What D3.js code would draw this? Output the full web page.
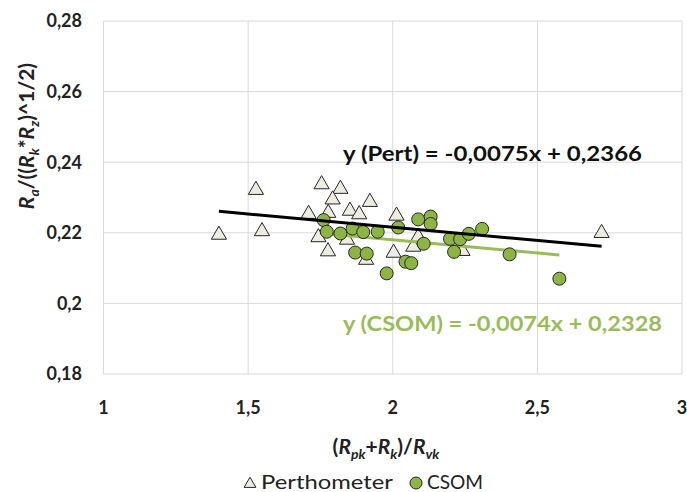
<!DOCTYPE html>
<html lang="en">
  <head>
    <title>Scatter Chart</title>
    <meta charset="utf-8" />
    <script src="https://cdn.jsdelivr.net/npm/d3@7"></script>
    <style>
      body { margin: 0; background: #fff; }
    </style>
  </head>
  <body>
    <svg id="chart" width="687" height="492" viewBox="0 0 687 492"></svg>
    <script>
      // Perthometer measurements
      const pertX = [1.399, 1.527, 1.548, 1.709, 1.754, 1.819, 1.792, 1.777, 1.852, 1.884, 1.921,
                     1.743, 1.842, 1.776, 1.908, 2.013, 2.003, 2.071, 2.088, 2.241, 2.722];
      const pertY = [0.2197, 0.2324, 0.2207, 0.2256, 0.2340, 0.2327, 0.2297, 0.2259, 0.2265, 0.2255, 0.2290,
                     0.2190, 0.2183, 0.2150, 0.2126, 0.2251, 0.2146, 0.2163, 0.2191, 0.2151, 0.2202];
      // CSOM measurements
      const csomX = [1.761, 1.772, 1.819, 1.861, 1.898, 1.948, 1.870, 1.910, 1.979, 2.019, 2.044, 2.064,
                     2.088, 2.131, 2.131, 2.107, 2.198, 2.233, 2.263, 2.309, 2.212, 2.404, 2.576];
      const csomY = [0.2236, 0.2203, 0.2198, 0.2212, 0.2202, 0.2203, 0.2144, 0.2141, 0.2085, 0.2215, 0.2118, 0.2114,
                     0.2238, 0.2246, 0.2225, 0.2169, 0.2183, 0.2182, 0.2197, 0.2211, 0.2146, 0.2139, 0.2070];
      // trend coefficients (slope, intercept)
      const pertTrend = [-0.0075, 0.2366];
      const csomTrend = [-0.0074, 0.2328];
      const xTicks = [1, 1.5, 2, 2.5, 3];
      const yTicks = [0.18, 0.2, 0.22, 0.24, 0.26, 0.28];

      const fmt = v => String(v).replace(".", ",");
      const font = "Lato, 'Open Sans', sans-serif";

      const svg = d3.select("#chart").attr("font-family", font);

      const x = d3.scaleLinear().domain([1, 3]).range([103.5, 682]);
      const y = d3.scaleLinear().domain([0.18, 0.28]).range([374, 21]);

      // gridlines
      svg.append("g")
        .selectAll("line")
        .data(yTicks)
        .join("line")
          .attr("x1", x(1)).attr("x2", x(3))
          .attr("y1", d => y(d)).attr("y2", d => y(d))
          .attr("stroke", "#d9d9d9").attr("stroke-width", 1);
      svg.append("g")
        .selectAll("line")
        .data(xTicks)
        .join("line")
          .attr("x1", d => x(d)).attr("x2", d => x(d))
          .attr("y1", y(0.18)).attr("y2", y(0.28))
          .attr("stroke", "#d9d9d9").attr("stroke-width", 1);

      // y tick labels
      svg.append("g")
        .selectAll("text")
        .data(yTicks)
        .join("text")
          .attr("x", 82)
          .attr("y", d => y(d))
          .attr("dy", "0.35em")
          .attr("text-anchor", "end")
          .attr("font-size", "18px")
          .attr("font-weight", "700")
          .attr("fill", "#222")
          .text(d => fmt(d));

      // x tick labels
      svg.append("g")
        .selectAll("text")
        .data(xTicks)
        .join("text")
          .attr("x", d => x(d))
          .attr("y", 414)
          .attr("text-anchor", "middle")
          .attr("font-size", "18px")
          .attr("font-weight", "700")
          .attr("fill", "#222")
          .text(d => fmt(d));

      // trendlines
      function trend(xs, c) {
        const ext = d3.extent(xs);
        return ext.map(v => [v, c[0] * v + c[1]]);
      }
      const line = d3.line().x(d => x(d[0])).y(d => y(d[1]));

      // markers
      const pert = pertX.map((v, i) => [v, pertY[i]]);
      const csom = csomX.map((v, i) => [v, csomY[i]]);
      const tri = d3.symbol().type(d3.symbolTriangle).size(100);

      svg.append("g")
        .selectAll("path")
        .data(pert)
        .join("path")
          .attr("transform", d => `translate(${x(d[0])},${y(d[1]) + 1})`)
          .attr("d", tri)
          .attr("fill", "#eeece1")
          .attr("stroke", "#262626")
          .attr("stroke-width", 1);

      svg.append("path")
        .datum(trend(csomX, csomTrend))
        .attr("d", line)
        .attr("stroke", "#9bbb59").attr("stroke-width", 3).attr("fill", "none");

      svg.append("g")
        .selectAll("circle")
        .data(csom)
        .join("circle")
          .attr("cx", d => x(d[0]))
          .attr("cy", d => y(d[1]))
          .attr("r", 6.5)
          .attr("fill", "#8db544")
          .attr("stroke", "#262626")
          .attr("stroke-width", 1);

      // black trend sits on top of the markers
      svg.append("path")
        .datum(trend(pertX, pertTrend))
        .attr("d", line)
        .attr("stroke", "#000").attr("stroke-width", 3).attr("fill", "none");

      // equations
      svg.append("text")
        .attr("x", 343).attr("y", 161)
        .attr("font-size", "20px").attr("font-weight", "700")
        .attr("fill", "#111")
        .attr("textLength", 299).attr("lengthAdjust", "spacingAndGlyphs")
        .text("y (Pert) = -0,0075x + 0,2366");
      svg.append("text")
        .attr("x", 343).attr("y", 331)
        .attr("font-size", "20px").attr("font-weight", "700")
        .attr("fill", "#9bbb59")
        .attr("textLength", 319).attr("lengthAdjust", "spacingAndGlyphs")
        .text("y (CSOM) = -0,0074x + 0,2328");

      // axis titles
      function richText(sel, parts) {
        parts.forEach(p => {
          const t = sel.append("tspan").text(p.t);
          if (p.i) t.attr("font-style", "italic");
          if (p.sub) t.attr("font-size", "14px").attr("dy", "5");
          if (p.back) t.attr("dy", "-5");
        });
      }

      const xt = svg.append("text")
        .attr("x", 386).attr("y", 454)
        .attr("text-anchor", "middle")
        .attr("font-size", "21px").attr("font-weight", "700")
        .attr("fill", "#222");
      richText(xt, [
        { t: "(" }, { t: "R", i: 1 }, { t: "pk", i: 1, sub: 1 }, { t: "+", back: 1 },
        { t: "R", i: 1 }, { t: "k", i: 1, sub: 1 }, { t: ")/", back: 1 },
        { t: "R", i: 1 }, { t: "vk", i: 1, sub: 1 }
      ]);

      const yt = svg.append("text")
        .attr("transform", "translate(34,136) rotate(-90)")
        .attr("text-anchor", "middle")
        .attr("font-size", "21px").attr("font-weight", "700")
        .attr("fill", "#222");
      richText(yt, [
        { t: "R", i: 1 }, { t: "a", i: 1, sub: 1 }, { t: "/((", back: 1 },
        { t: "R", i: 1 }, { t: "k", i: 1, sub: 1 }, { t: "*", back: 1 },
        { t: "R", i: 1 }, { t: "z", i: 1, sub: 1 }, { t: ")^1/2)", back: 1 }
      ]);

      // legend
      const lg = svg.append("g").attr("font-size", "19px").attr("fill", "#222");
      lg.append("path")
        .attr("transform", "translate(250,484)")
        .attr("d", d3.symbol().type(d3.symbolTriangle).size(60))
        .attr("fill", "#eeece1").attr("stroke", "#262626");
      lg.append("text").attr("x", 261).attr("y", 489)
        .attr("textLength", 132).attr("lengthAdjust", "spacingAndGlyphs")
        .text("Perthometer");
      lg.append("circle")
        .attr("cx", 416).attr("cy", 483).attr("r", 6)
        .attr("fill", "#8db544").attr("stroke", "#262626");
      lg.append("text").attr("x", 427).attr("y", 489)
        .attr("textLength", 56).attr("lengthAdjust", "spacingAndGlyphs")
        .text("CSOM");
    </script>
  </body>
</html>
